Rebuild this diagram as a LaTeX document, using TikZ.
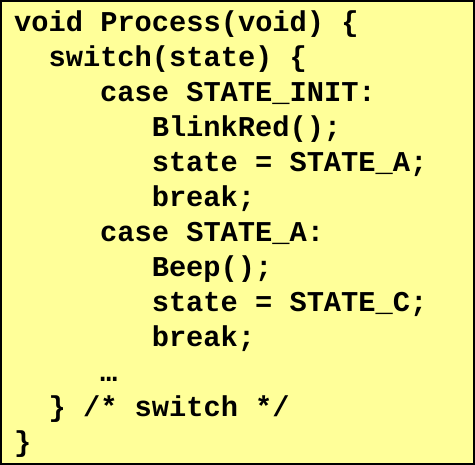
\documentclass[tikz,border=0pt]{standalone}
\usepackage{fontspec}
\setmonofont{Liberation Mono}
\usepackage{tikz}
\usetikzlibrary{positioning}
\definecolor{codebg}{HTML}{FFFF99}

\begin{document}
\begin{tikzpicture}[x=1pt,y=-1pt,
    code/.style={anchor=base west,inner sep=0pt,font=\fontsize{28.7}{35}\selectfont\ttfamily\bfseries}]
      \useasboundingbox (0,0) rectangle (475,465);
      \draw [fill = codebg, line width = 2pt] (1,1) rectangle (474,464);

      \node[code] (l1) at (14,32) {void Process(void) \{};
      \node[code] (l2) at (48.4,67) {switch(state) \{};
      \node[code] (l3) at (100,102) {case STATE\_INIT:};
      \node[code] (l4) at (151.6,137) {BlinkRed();};
      \node[code] (l5) at (151.6,172) {state = STATE\_A;};
      \node[code] (l6) at (151.6,207) {break;};
      \node[code] (l7) at (100,242) {case STATE\_A:};
      \node[code] (l8) at (151.6,277) {Beep();};
      \node[code] (l9) at (151.6,312) {state = STATE\_C;};
      \node[code] (l10) at (151.6,347) {break;};
      \node[code] (dots) at (100,382) {…};
      \node[code] (l11) at (48.4,417) {\} /* switch */};
      \node[code] (l12) at (14,452) {\}};
\end{tikzpicture}
\end{document}
